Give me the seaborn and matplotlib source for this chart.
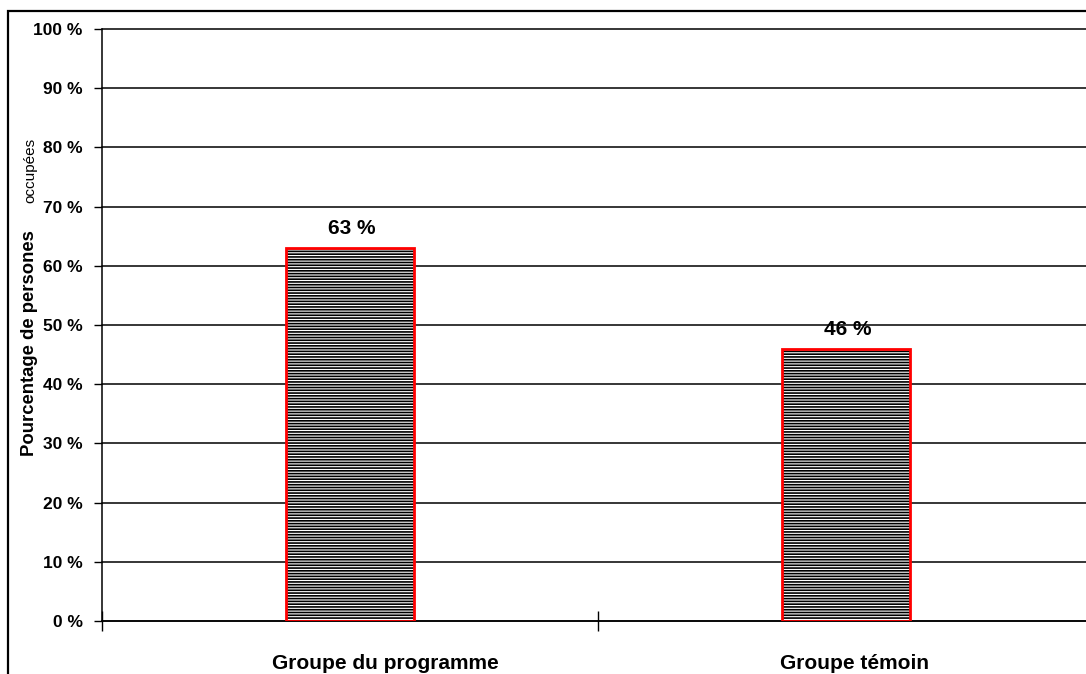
import matplotlib
matplotlib.use("Agg")
import matplotlib.pyplot as plt
import matplotlib.transforms as mtransforms
from matplotlib.patches import Rectangle
import seaborn as sns
import pandas as pd

categories = ["Groupe du programme", "Groupe témoin"]
values = [63, 46]
bar_labels = ["63 %", "46 %"]
y_ticks = [0, 10, 20, 30, 40, 50, 60, 70, 80, 90, 100]
y_tick_labels = [f"{v} %" for v in y_ticks]

sns.set_theme(style="white")
plt.rcParams["font.family"] = ["Liberation Sans", "DejaVu Sans"]
plt.rcParams["hatch.linewidth"] = 1.2
plt.rcParams["text.color"] = "black"
plt.rcParams["xtick.color"] = "black"
plt.rcParams["ytick.color"] = "black"
plt.rcParams["axes.labelcolor"] = "black"

df = pd.DataFrame({"groupe": categories, "pct": values})

W, H = 1086, 674
fig = plt.figure(figsize=(W / 100, H / 100), dpi=100)
fig.patch.set_facecolor("white")
ax = fig.add_axes([102 / W, 1 - 621 / H, (1094 - 102) / W, (621 - 29) / H])

# hatched fill
sns.barplot(data=df, x="groupe", y="pct", ax=ax, color="white",
            edgecolor="black", hatch="------", linewidth=0, width=0.26,
            saturation=1, zorder=3)
# red outline
sns.barplot(data=df, x="groupe", y="pct", ax=ax, fill=False, color="red",
            linewidth=2, width=0.26, saturation=1, zorder=4)

ax.set_xlim(-0.5, 1.5)
ax.set_ylim(0, 100)
ax.set_yticks(y_ticks)
ax.set_yticklabels(y_tick_labels, fontsize=12.5, fontweight="bold", color="black")
ax.yaxis.grid(True, color="black", linewidth=1.1)
for gl in ax.get_ygridlines():
    gl.set_clip_on(False)
ax.set_axisbelow(True)

for sp in ["top", "right"]:
    ax.spines[sp].set_visible(False)
for sp in ["left", "bottom"]:
    ax.spines[sp].set_color("black")
    ax.spines[sp].set_linewidth(1.1)

ax.tick_params(axis="y", which="major", direction="out", length=6,
               width=1, color="black", labelcolor="black", pad=8, left=True)

# category labels (major, no tick mark) and boundary ticks (minor)
ax.set_xticks([0, 1])
ax.set_xticklabels(categories, fontsize=15, fontweight="bold", color="black")
ax.set_xticks([-0.5, 0.5, 1.5], minor=True)
ax.tick_params(axis="x", which="major", length=0, pad=24, labelcolor="black")
ax.tick_params(axis="x", which="minor", direction="inout", length=14,
               width=1, color="black", bottom=True)
offsets_px = [35, 9]
for lab, dx in zip(ax.get_xticklabels(), offsets_px):
    lab.set_transform(lab.get_transform() +
                      mtransforms.ScaledTranslation(dx / 100, 0, fig.dpi_scale_trans))

ax.set_xlabel("")
ax.set_ylabel("")

# value labels above bars
for i, (v, t) in enumerate(zip(values, bar_labels)):
    ax.annotate(t, (i, v), xytext=(1, 7), textcoords="offset points",
                ha="center", va="bottom", fontsize=15, fontweight="bold",
                color="black")

# y-axis title: bold part + regular part
fig.text(34 / W, 1 - 343.5 / H, "Pourcentage de persones", rotation=90,
         rotation_mode="anchor", ha="center", va="baseline",
         fontsize=13.3, fontweight="bold", color="black")
fig.text(34 / W, 1 - 170 / H, "occupées", rotation=90,
         rotation_mode="anchor", ha="center", va="baseline",
         fontsize=11, color="black")

# outer chart frame
fig.add_artist(Rectangle((8 / W, -0.1), 1.2, (1 - 11 / H) + 0.1,
                         transform=fig.transFigure, fill=False,
                         edgecolor="black", linewidth=1.6))

fig.savefig("out.png", dpi=100)
